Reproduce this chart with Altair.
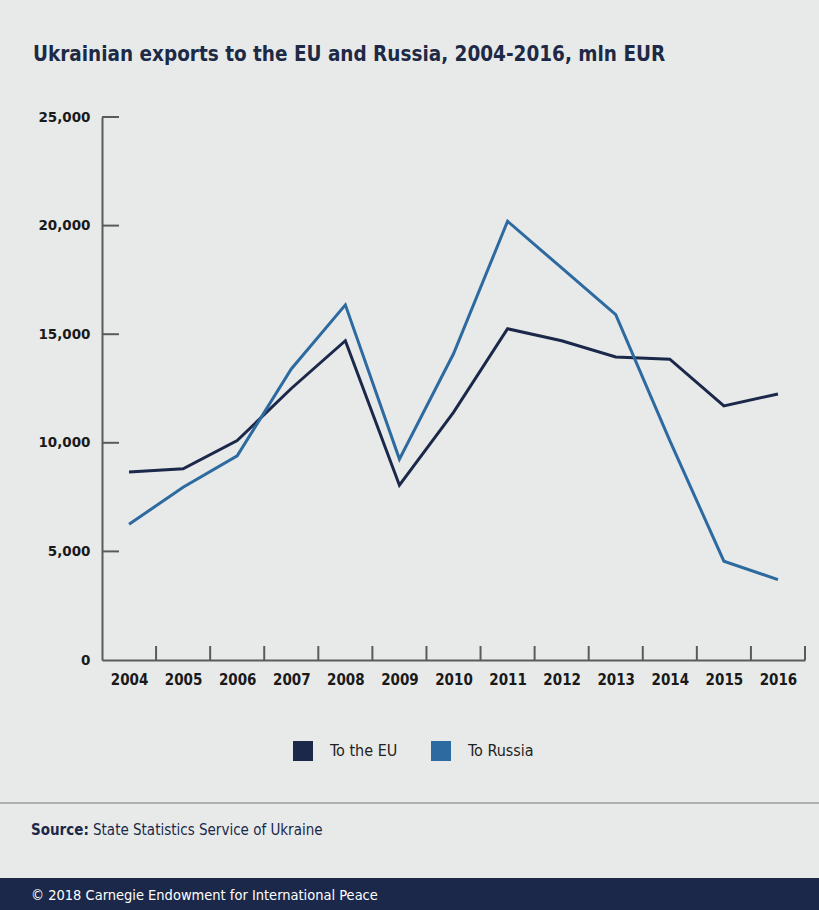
import altair as alt
import pandas as pd

years = list(range(2004, 2017))
to_eu = [8650, 8800, 10100, 12500, 14700, 8050, 11400, 15250, 14700, 13950, 13850, 11700, 12250]
to_russia = [6250, 7950, 9400, 13400, 16350, 9250, 14100, 20200, 18050, 15900, 10100, 4550, 3700]
series_names = ["To the EU", "To Russia"]
series_colors = ["#1b2849", "#2c6aa0"]
y_ticks = [0, 5000, 10000, 15000, 20000, 25000]

title_text = "Ukrainian exports to the EU and Russia, 2004-2016, mln EUR"
source_label = "Source:"
source_text = "State Statistics Service of Ukraine"
footer_text = "© 2018 Carnegie Endowment for International Peace"

BG = "#e8eaea"
NAVY = "#1b2849"
W, H = 703, 543
PAD_L, PAD_T = 102, 117

rows = []
for y, a, b in zip(years, to_eu, to_russia):
    rows.append({"year": y, "value": a, "series": series_names[0]})
    rows.append({"year": y, "value": b, "series": series_names[1]})
df = pd.DataFrame(rows)

xscale = alt.Scale(domain=[years[0] - 0.5, years[-1] + 0.5], nice=False, zero=False)
yscale = alt.Scale(domain=[0, 25000], nice=False)

lines = alt.Chart(df).mark_line(strokeWidth=3).encode(
    x=alt.X("year:Q", scale=xscale,
            axis=alt.Axis(values=years, format="d", ticks=False, grid=False, title=None,
                          labelFont="DejaVu Sans Condensed", labelFontWeight="bold",
                          labelFontSize=15, labelColor="#1a1a1a", labelPadding=12,
                          domainColor="#5a5a5a", domainWidth=2, labelFlush=False)),
    y=alt.Y("value:Q", scale=yscale,
            axis=alt.Axis(values=y_ticks, format=",d", ticks=False, grid=False, title=None,
                          labelFont="DejaVu Sans", labelFontWeight="bold",
                          labelFontSize=13.5, labelColor="#1a1a1a", labelPadding=12,
                          domainColor="#5a5a5a", domainWidth=2)),
    color=alt.Color("series:N",
                    scale=alt.Scale(domain=series_names, range=series_colors),
                    legend=alt.Legend(title=None, orient="none", legendX=191, legendY=624,
                                      direction="horizontal", symbolType="square",
                                      symbolSize=100, symbolStrokeWidth=10,
                                      labelFont="DejaVu Sans Condensed", labelFontSize=16,
                                      labelColor="#222222", labelOffset=17,
                                      columnPadding=18)),
)

ytick_df = pd.DataFrame({"v": y_ticks[1:]})
yticks = alt.Chart(ytick_df).mark_rule(color="#5a5a5a", strokeWidth=2).encode(
    y=alt.Y("v:Q", scale=yscale), x=alt.value(0), x2=alt.value(17)
)

xtick_df = pd.DataFrame({"b": [y + 0.5 for y in years]})
xticks = alt.Chart(xtick_df).mark_rule(color="#5a5a5a", strokeWidth=2).encode(
    x=alt.X("b:Q", scale=xscale), y=alt.value(H), y2=alt.value(H - 14)
)

one = pd.DataFrame({"k": [0]})

title = alt.Chart(one).mark_text(
    text=title_text, align="left", baseline="middle", font="DejaVu Sans Condensed",
    fontWeight="bold", fontSize=20.5, color="#1e2a45"
).encode(x=alt.value(33 - PAD_L), y=alt.value(55 - PAD_T))

sep = alt.Chart(one).mark_rule(color="#9a9c9c", strokeWidth=1.5).encode(
    x=alt.value(-PAD_L), x2=alt.value(819 - PAD_L), y=alt.value(803 - PAD_T)
)

src1 = alt.Chart(one).mark_text(
    text=source_label, align="left", baseline="middle", font="DejaVu Sans Condensed",
    fontWeight="bold", fontSize=15, color=NAVY
).encode(x=alt.value(31 - PAD_L), y=alt.value(830 - PAD_T))

src2 = alt.Chart(one).mark_text(
    text=source_text, align="left", baseline="middle", font="DejaVu Sans Condensed",
    fontSize=15, color=NAVY
).encode(x=alt.value(93 - PAD_L), y=alt.value(830 - PAD_T))

footer_bar = alt.Chart(one).mark_rect(color=NAVY).encode(
    x=alt.value(-PAD_L), x2=alt.value(819 - PAD_L),
    y=alt.value(878 - PAD_T), y2=alt.value(910 - PAD_T)
)

footer = alt.Chart(one).mark_text(
    text=footer_text, align="left", baseline="middle", font="DejaVu Sans Condensed",
    fontSize=14.5, color="#ffffff"
).encode(x=alt.value(31 - PAD_L), y=alt.value(896 - PAD_T))

chart = alt.layer(
    footer_bar, sep, yticks, xticks, lines, title, src1, src2, footer
).properties(
    width=W, height=H,
    autosize=alt.AutoSizeParams(type="none"),
    padding={"left": PAD_L, "top": PAD_T, "right": 819 - PAD_L - W, "bottom": 910 - PAD_T - H},
    background=BG,
).configure_view(stroke=None)

chart.save("out.html", embed_options={"renderer": "svg", "actions": False})
